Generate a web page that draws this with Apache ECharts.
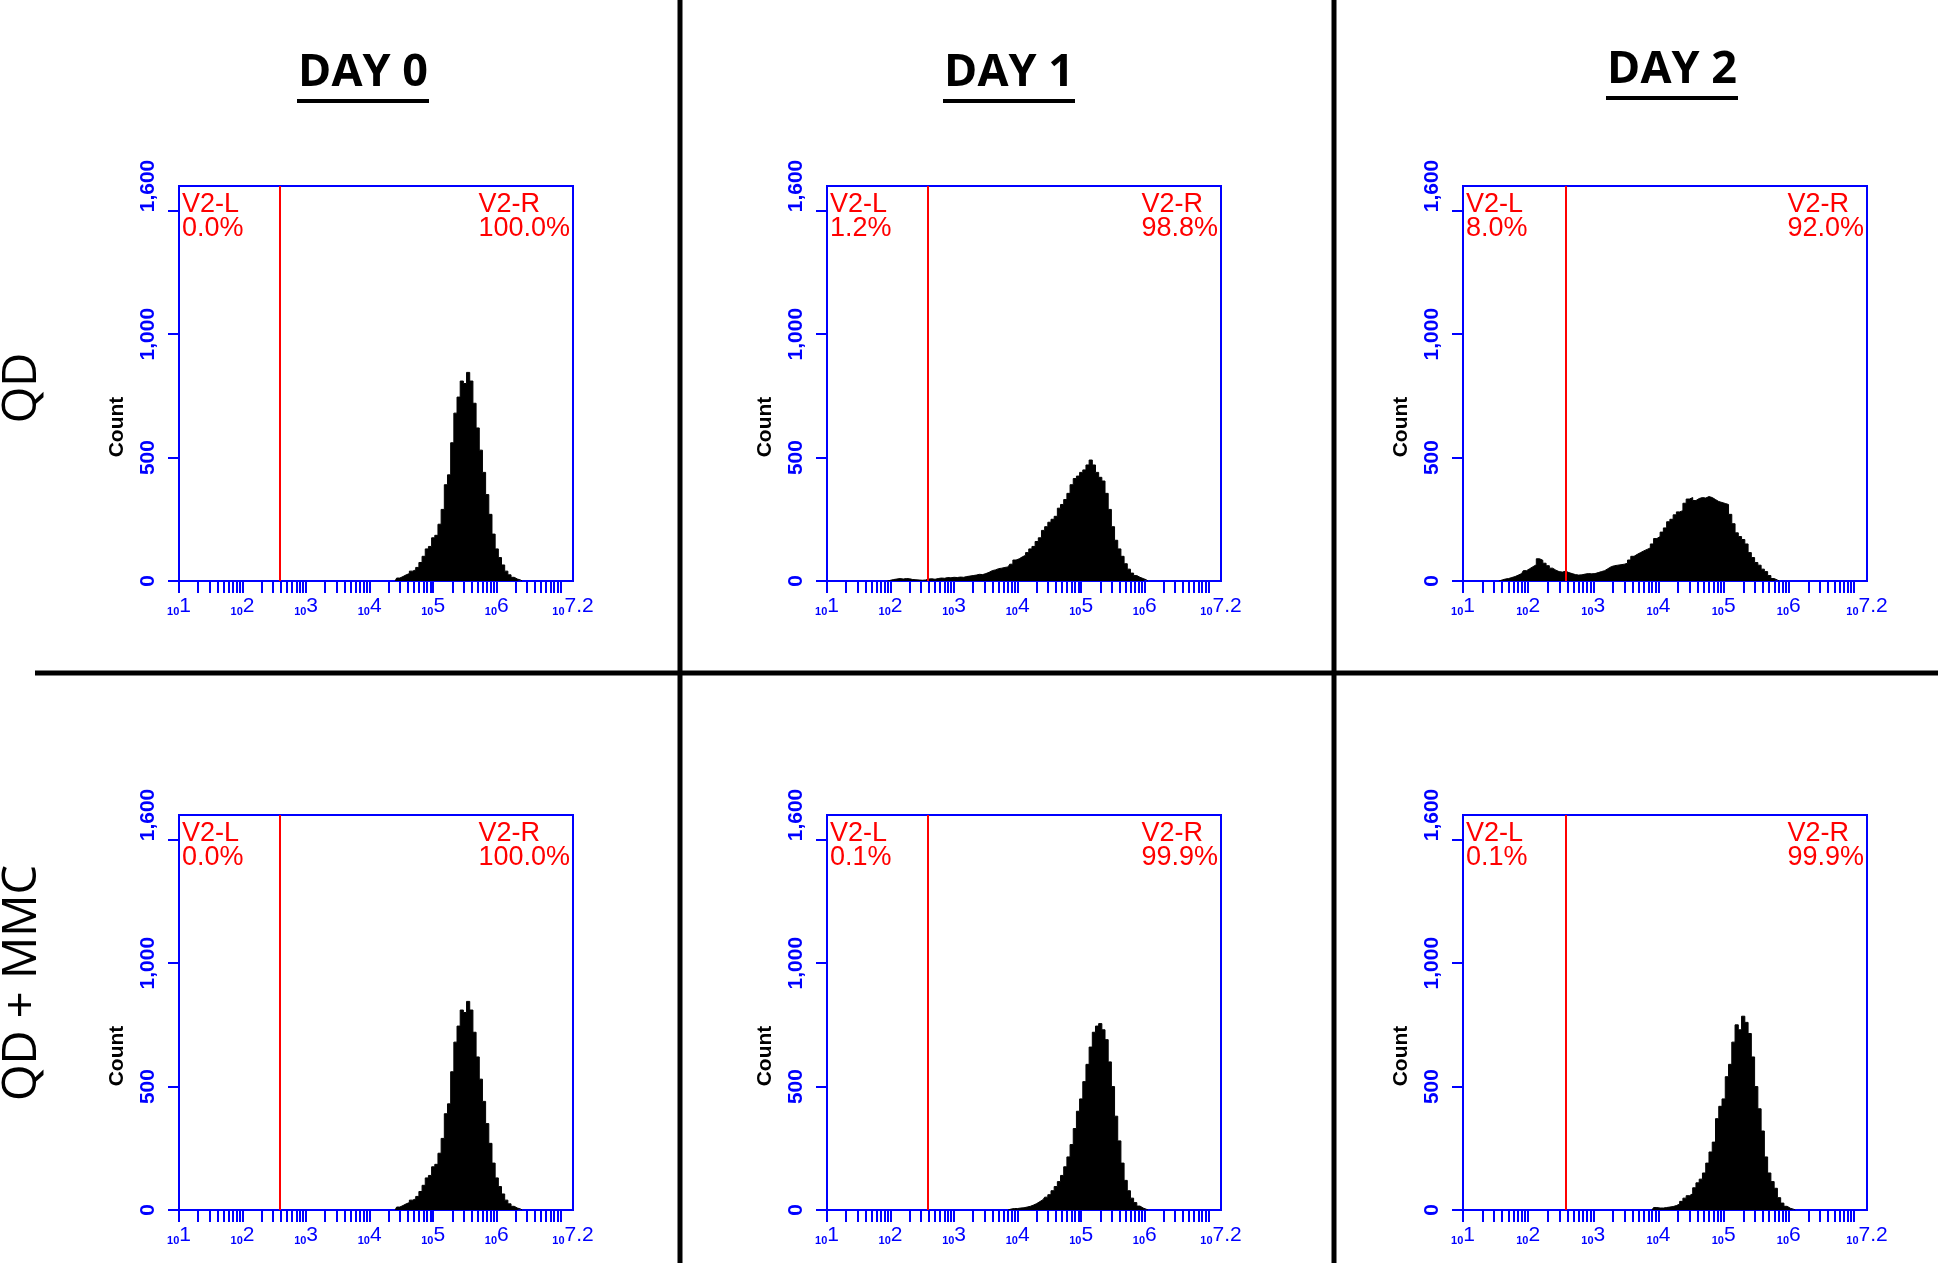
<!DOCTYPE html>
<html>
<head>
<meta charset="utf-8">
<script src="https://cdn.jsdelivr.net/npm/echarts@6/dist/echarts.min.js"></script>
<style>
html,body{margin:0;padding:0;background:#fff;}
#c{width:1946px;height:1266px;}
</style>
</head>
<body>
<div id="c"></div>
<script>
// ---------------- data ----------------
const columnTitles = ['DAY 0', 'DAY 1', 'DAY 2'];
const rowTitles = ['QD', 'QD + MMC'];
const yTickValues = [0, 500, 1000, 1500];
const yLabelValues = [0, 500, 1000, 1600];
const xLabelValues = [1, 2, 3, 4, 5, 6, 7.2];
const xLabelExponents = ['1', '2', '3', '4', '5', '6', '7.2'];
const gateLog = 2.58;          // gate position, log10 of fluorescence
const binWidth = 0.05;         // histogram bin width in log10 units
const gateLeftNames = ['V2-L', 'V2-L', 'V2-L', 'V2-L', 'V2-L', 'V2-L'];
const gateRightNames = ['V2-R', 'V2-R', 'V2-R', 'V2-R', 'V2-R', 'V2-R'];
const gateLeftPct = ['0.0%', '1.2%', '8.0%', '0.0%', '0.1%', '0.1%'];
const gateRightPct = ['100.0%', '98.8%', '92.0%', '100.0%', '99.9%', '99.9%'];

const qdDay0Start = 4.40;
const qdDay0Counts = [0, 12, 18, 25, 30, 40, 45, 55, 75, 100, 130, 140, 175, 185, 230, 290, 390, 430, 560, 680,
  745, 810, 800, 845, 810, 720, 620, 530, 440, 350, 270, 190, 130, 95, 65, 40, 25, 15, 8, 4, 0];

const qdDay1Start = 1.95;
const qdDay1Counts = [0, 3, 6, 8, 10, 8, 10, 9, 6, 5, 4, 3, 4, 8, 9, 7, 10, 12, 11, 14, 13, 15, 14, 16, 15, 18, 20, 22,
  24, 27, 26, 30, 35, 42, 45, 50, 52, 55, 57, 68, 85, 90, 98, 104, 115, 130, 140, 160, 175, 205, 220, 238, 250, 262,
  295, 310, 330, 355, 390, 415, 425, 440, 450, 470, 490, 470, 440, 420, 405, 355, 290, 220, 165, 130, 100, 70, 48,
  32, 22, 15, 10, 5, 0];

const qdDay2Start = 1.55;
const qdDay2Counts = [0, 4, 8, 10, 14, 18, 24, 30, 42, 50, 58, 66, 90, 84, 72, 62, 52, 44, 38, 36, 40, 34, 30, 26, 24,
  25, 28, 30, 29, 30, 34, 38, 42, 50, 58, 62, 64, 66, 68, 72, 85, 100, 108, 115, 122, 128, 134, 150, 172, 180, 198,
  215, 240, 250, 268, 280, 285, 315, 332, 338, 326, 334, 338, 336, 342, 338, 330, 322, 318, 314, 310, 270, 232, 195,
  180, 168, 150, 115, 95, 75, 64, 48, 38, 22, 10, 4, 0];

const mmcDay0Start = 4.40;
const mmcDay0Counts = [0, 12, 18, 25, 30, 40, 45, 55, 75, 100, 130, 140, 175, 185, 230, 290, 390, 430, 560, 680,
  745, 810, 800, 845, 810, 720, 620, 530, 440, 350, 270, 190, 130, 95, 65, 40, 25, 15, 8, 4, 0];

const mmcDay1Start = 3.85;
const mmcDay1Counts = [0, 4, 6, 6, 8, 9, 12, 15, 20, 26, 34, 42, 52, 62, 78, 95, 115, 140, 175, 215, 265, 330, 400,
  450, 520, 590, 660, 720, 745, 755, 730, 690, 600, 500, 380, 280, 190, 120, 78, 48, 30, 16, 8, 3, 0];

const mmcDay2Start = 3.90;
const mmcDay2Counts = [0, 10, 8, 8, 10, 12, 14, 18, 24, 35, 48, 58, 66, 90, 110, 125, 150, 190, 235, 275, 370, 420,
  450, 540, 590, 680, 750, 730, 785, 760, 715, 620, 500, 410, 320, 215, 150, 115, 88, 50, 28, 15, 7, 3, 0];

const panelStarts = [qdDay0Start, qdDay1Start, qdDay2Start, mmcDay0Start, mmcDay1Start, mmcDay2Start];
const panelCounts = [qdDay0Counts, qdDay1Counts, qdDay2Counts, mmcDay0Counts, mmcDay1Counts, mmcDay2Counts];

// ---------------- layout / style ----------------
const BLUE = '#0000ff';
const RED = '#ff0000';
const colLefts = [179, 827, 1463];
const colWidths = [394, 394, 404];
const rowTops = [186, 815];
const plotH = 395;
const titleX = [363, 1009, 1672];
const titleY = [73, 73, 70];

// minor + major ticks on the log axis (positions of k*10^n)
const xTickValues = [];
for (let n = 1; n <= 6; n++) for (let k = 1; k <= 9; k++) xTickValues.push(n + Math.log10(k));
xTickValues.push(7);

const measureCtx = document.createElement('canvas').getContext('2d');
const gateFont = '27px "Liberation Sans"';
function textW(t) { measureCtx.font = gateFont; return measureCtx.measureText(t).width; }

const grids = [], xAxes = [], yAxes = [], series = [], graphics = [];

for (let p = 0; p < 6; p++) {
  const r = Math.floor(p / 3), c = p % 3;
  const left = colLefts[c], top = rowTops[r], w = colWidths[c];
  grids.push({left: left, top: top, width: w, height: plotH, show: true,
    borderColor: BLUE, borderWidth: 2, backgroundColor: 'transparent', containLabel: false});
  xAxes.push({
    type: 'value', gridIndex: p, min: 1, max: 7.2,
    axisLine: {show: true, onZero: false, lineStyle: {color: BLUE, width: 2}},
    axisTick: {show: true, customValues: xTickValues, length: 12, lineStyle: {color: BLUE, width: 2}},
    axisLabel: {
      customValues: xLabelValues, margin: 14,
      formatter: function (v) {
        const i = xLabelValues.findIndex(x => Math.abs(x - v) < 1e-6);
        return '{s|10}{e|' + (i >= 0 ? xLabelExponents[i] : '') + '}';
      },
      rich: {
        s: {fontSize: 11, fontWeight: 'bold', color: BLUE, fontFamily: 'Liberation Sans', verticalAlign: 'bottom', lineHeight: 22},
        e: {fontSize: 21, color: BLUE, fontFamily: 'Liberation Sans', verticalAlign: 'bottom', lineHeight: 22}
      }
    },
    splitLine: {show: false}
  });
  yAxes.push({
    type: 'value', gridIndex: p, min: 0, max: 1600,
    axisLine: {show: true, lineStyle: {color: BLUE, width: 2}},
    axisTick: {show: true, customValues: yTickValues, length: 11, lineStyle: {color: BLUE, width: 2}},
    axisLabel: {
      customValues: yLabelValues, rotate: 90, margin: 20,
      color: BLUE, fontSize: 21, fontWeight: 'bold', fontFamily: 'Liberation Sans',
      formatter: v => v.toLocaleString('en-US')
    },
    splitLine: {show: false}
  });
  const counts = panelCounts[p], start = panelStarts[p];
  const data = counts.map((v, i) => [Math.round((start + i * binWidth) * 1000) / 1000, v]);
  series.push({
    type: 'line', xAxisIndex: p, yAxisIndex: p, data: data, step: 'middle',
    symbol: 'none', silent: true, animation: false,
    lineStyle: {color: '#000', width: 1},
    areaStyle: {color: '#000', opacity: 1},
    markLine: {
      silent: true, symbol: 'none', animation: false,
      lineStyle: {color: RED, width: 2, type: 'solid'},
      label: {show: false},
      data: [{xAxis: gateLog}]
    }
  });
  // gate annotations
  graphics.push({type: 'text', x: left + 3, y: top + 7, z: 10,
    style: {text: gateLeftNames[p] + '\n' + gateLeftPct[p], font: gateFont, fill: RED, lineHeight: 23.5,
      align: 'left', verticalAlign: 'top'}});
  const rw = Math.max(textW(gateRightNames[p]), textW(gateRightPct[p]));
  graphics.push({type: 'text', x: left + w - 3 - rw, y: top + 7, z: 10,
    style: {text: gateRightNames[p] + '\n' + gateRightPct[p], font: gateFont, fill: RED, lineHeight: 23.5,
      align: 'left', verticalAlign: 'top'}});
  // Count axis title
  graphics.push({type: 'text', x: left - 62, y: top + 241, rotation: Math.PI / 2, z: 10,
    style: {text: 'Count', font: 'bold 21px "Liberation Sans"', fill: '#000', align: 'center', verticalAlign: 'middle'}});
}

// column titles with underline
for (let c = 0; c < 3; c++) {
  graphics.push({type: 'text', x: titleX[c], y: titleY[c], z: 10,
    style: {text: columnTitles[c], font: 'bold 45px "Open Sans"', fill: '#000', align: 'center', verticalAlign: 'middle'}});
  graphics.push({type: 'line', z: 10, shape: {x1: titleX[c] - 66, y1: titleY[c] + 28, x2: titleX[c] + 66, y2: titleY[c] + 28},
    style: {stroke: '#000', lineWidth: 4}});
}
// row titles
const rowY = [388, 983];
for (let r = 0; r < 2; r++) {
  graphics.push({type: 'text', x: 23, y: rowY[r], rotation: Math.PI / 2, z: 10,
    style: {text: rowTitles[r], font: '47px "Open Sans"', fill: '#000', align: 'center', verticalAlign: 'middle'}});
}
// dividing lines
graphics.push({type: 'line', z: 5, shape: {x1: 680, y1: 0, x2: 680, y2: 1263}, style: {stroke: '#000', lineWidth: 5}});
graphics.push({type: 'line', z: 5, shape: {x1: 1334, y1: 0, x2: 1334, y2: 1263}, style: {stroke: '#000', lineWidth: 5}});
graphics.push({type: 'line', z: 5, shape: {x1: 35, y1: 673, x2: 1938, y2: 673}, style: {stroke: '#000', lineWidth: 5}});

const chart = echarts.init(document.getElementById('c'), null, {renderer: 'canvas'});
chart.setOption({
  animation: false,
  backgroundColor: '#fff',
  grid: grids, xAxis: xAxes, yAxis: yAxes, series: series,
  graphic: graphics
});
</script>
</body>
</html>
